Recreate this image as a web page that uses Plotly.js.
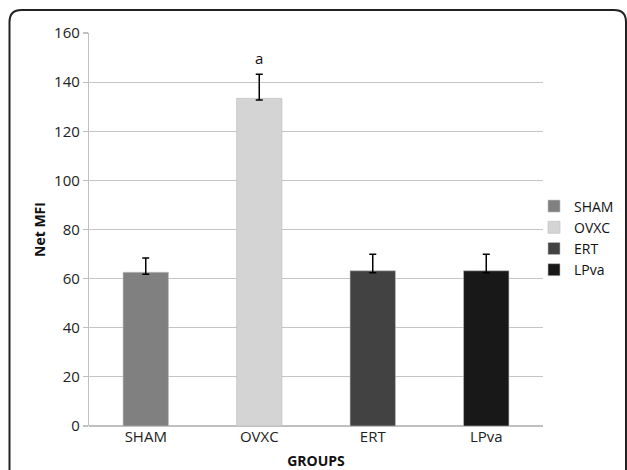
<!DOCTYPE html>
<html>
<head>
<meta charset="utf-8">
<script src="https://cdn.plot.ly/plotly-3.0.1.min.js"></script>
<style>html,body{margin:0;padding:0;background:#fff;}#chart{width:627px;height:470px;}</style>
</head>
<body>
<div id="chart"></div>
<script>
var groups = ["SHAM", "OVXC", "ERT", "LPva"];
var values = [62.6, 133.4, 63.2, 63.2];
var errPlus = [5.8, 9.8, 6.7, 6.7];
var errMinus = [0.8, 0.7, 0.8, 0.8];
var colors = ["#808080", "#d4d4d4", "#424242", "#181818"];
var yTicks = [0, 20, 40, 60, 80, 100, 120, 140, 160];
var sigLabel = "a";
var sigGroup = "OVXC";
var sigY = 150;

var FONT = "Open Sans, sans-serif";

var traces = groups.map(function (g, i) {
  return {
    type: "bar",
    name: g,
    x: [g],
    y: [values[i]],
    marker: { color: colors[i], line: { color: "#bdbdbd", width: 0.6 } },
    error_y: {
      type: "data", symmetric: false,
      array: [errPlus[i]], arrayminus: [errMinus[i]],
      color: "#000", thickness: 1.5, width: 3.5
    },
    offsetgroup: "a",
    hoverinfo: "none"
  };
});

// frame geometry in paper coords (plot area 89..543 x, 33..426 y)
var L = 89, R = 543, T = 33, B = 426, W = R - L, H = B - T;
function px(x) { return (x - L) / W; }
function py(y) { return (B - y) / H; }
var fx0 = px(9.5), fx1 = px(626), fy0 = py(10), fyb = py(480);
var rx = 12 / W, ry = 12 / H;
var framePath = "M " + fx0 + "," + fyb + " L " + fx0 + "," + (fy0 - ry) +
  " Q " + fx0 + "," + fy0 + " " + (fx0 + rx) + "," + fy0 +
  " L " + (fx1 - rx) + "," + fy0 +
  " Q " + fx1 + "," + fy0 + " " + fx1 + "," + (fy0 - ry) +
  " L " + fx1 + "," + fyb;

var layout = {
  width: 627, height: 470,
  margin: { l: L, r: 627 - R, t: T, b: 470 - B, pad: 0, autoexpand: false },
  paper_bgcolor: "#fff", plot_bgcolor: "#fff",
  font: { family: FONT, size: 15, color: "#222" },
  barmode: "group",
  bargap: 0.6,
  showlegend: true,
  legend: {
    x: px(534), xanchor: "left", y: py(238), yanchor: "middle",
    font: { family: FONT, size: 14, color: "#111" },
    itemwidth: 30, tracegroupgap: 0, traceorder: "normal",
    bgcolor: "rgba(0,0,0,0)", borderwidth: 0
  },
  xaxis: {
    type: "category",
    categoryarray: groups,
    showgrid: false,
    showline: false,
    ticks: "",
    tickfont: { family: FONT, size: 15, color: "#222" },
    title: { text: "<b>GROUPS</b>", font: { family: FONT, size: 14, color: "#111" }, standoff: 12 },
    fixedrange: true
  },
  yaxis: {
    range: [0, 160],
    tickvals: yTicks,
    ticktext: yTicks.map(String),
    showgrid: true, gridcolor: "#c4c4c4", gridwidth: 1.2,
    showline: true, linecolor: "#c0c0c0", linewidth: 1.2,
    zeroline: true, zerolinecolor: "#c0c0c0", zerolinewidth: 1.2,
    ticks: "outside", ticklen: 5, tickcolor: "#c0c0c0", tickwidth: 1.2,
    tickfont: { family: FONT, size: 15, color: "#222" },
    title: { text: "<b>Net MFI</b>", font: { family: FONT, size: 14, color: "#111" }, standoff: 5 },
    fixedrange: true
  },
  annotations: [{
    x: sigGroup, y: sigY, xref: "x", yref: "y",
    text: sigLabel, showarrow: false,
    font: { family: FONT, size: 15, color: "#111" }
  }],
  shapes: [{
    type: "path", xref: "paper", yref: "paper",
    path: framePath,
    line: { color: "#222", width: 2 }, layer: "above"
  }]
};

Plotly.newPlot("chart", traces, layout, { displayModeBar: false, staticPlot: true });
</script>
</body>
</html>
